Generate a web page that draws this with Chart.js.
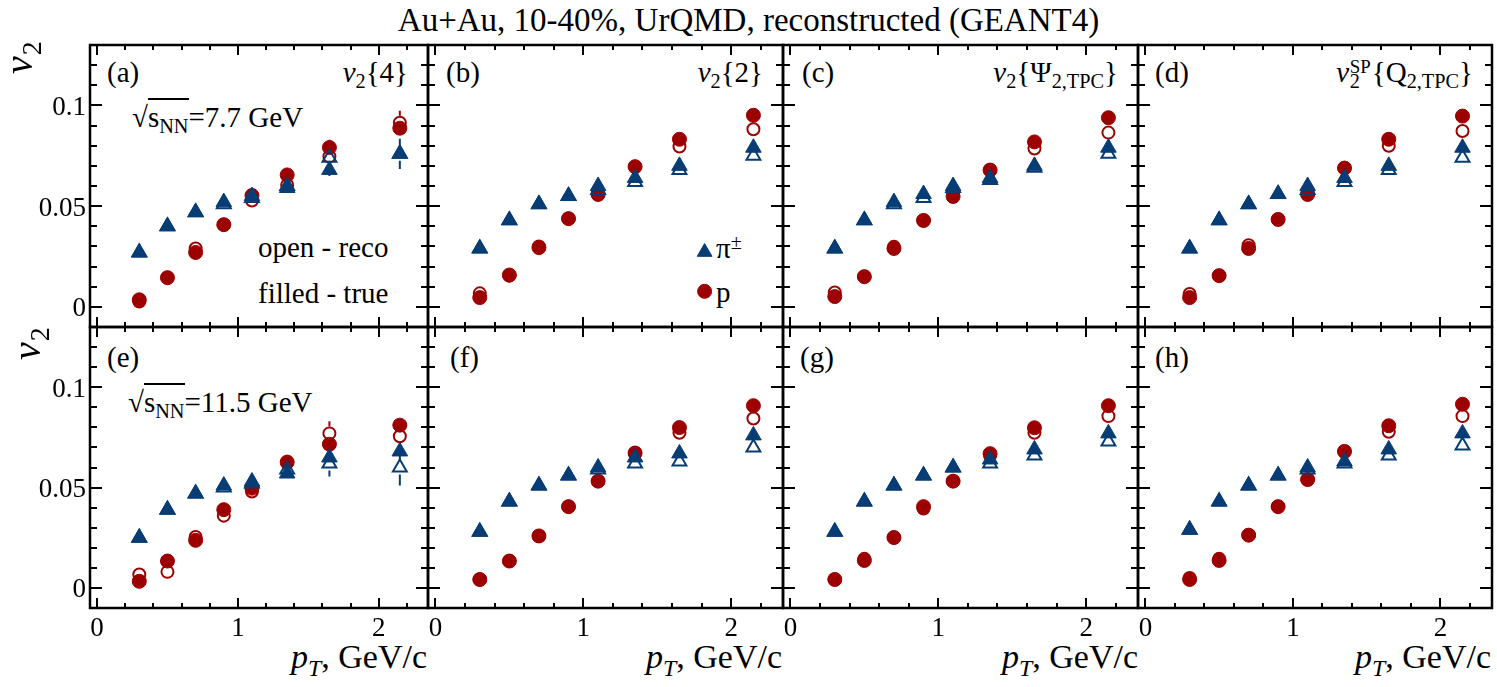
<!DOCTYPE html>
<html>
<head>
<meta charset="utf-8">
<script src="https://cdn.jsdelivr.net/npm/chart.js@4.4.0/dist/chart.umd.min.js"></script>
<style>
  body { margin: 0; background: #fff; }
  #fig { position: relative; width: 1497px; height: 687px; overflow: hidden; background: #fff; }
  #fig canvas { position: absolute; }
  .t { position: absolute; font-family: 'Liberation Serif', 'DejaVu Serif', serif; line-height: 1; white-space: nowrap; color: #000; }
  .t sub { font-size: 0.7em; vertical-align: -0.32em; line-height: 0; }
  .t sup { font-size: 0.7em; vertical-align: 0.45em; line-height: 0; }
  .lab { font-size: 29px; }
  .ttl { font-size: 33px; left: 0; width: 1497px; text-align: center; top: 4px; }
  .xt { font-size: 34px; top: 640px; }
  .ss { display: inline-block; position: relative; width: 0.78em; height: 1em; vertical-align: top; }
  .ss .up { position: absolute; left: 0.03em; top: 0.02em; font-size: 0.65em; }
  .ss .dn { position: absolute; left: 0.03em; top: 0.62em; font-size: 0.7em; }
  .ov { border-top: 2px solid #000; padding-top: 1px; }
</style>
</head>
<body>
<div id="fig">
  <div class="t ttl">Au+Au, 10-40%, UrQMD, reconstructed (GEANT4)</div>

  <div class="t lab" style="left:107px; top:58px;">(a)</div>
  <div class="t lab" style="left:446px; top:58px;">(b)</div>
  <div class="t lab" style="left:802px; top:58px;">(c)</div>
  <div class="t lab" style="left:1155px; top:58px;">(d)</div>
  <div class="t lab" style="left:107px; top:343px;">(e)</div>
  <div class="t lab" style="left:450px; top:343px;">(f)</div>
  <div class="t lab" style="left:800px; top:343px;">(g)</div>
  <div class="t lab" style="left:1155px; top:343px;">(h)</div>

  <div class="t lab" style="right:1089px; top:58px;"><i>v</i><sub>2</sub>{4}</div>
  <div class="t lab" style="right:734px; top:58px;"><i>v</i><sub>2</sub>{2}</div>
  <div class="t lab" style="right:379px; top:58px;"><i>v</i><sub>2</sub>{&Psi;<sub>2,TPC</sub>}</div>
  <div class="t lab" style="right:24px; top:58px;"><i>v</i><span class="ss"><span class="up">SP</span><span class="dn">2</span></span>{Q<sub>2,TPC</sub>}</div>

  <div class="t lab" style="left:132px; top:103px;">&radic;<span class="ov">s<sub>NN</sub></span>=7.7 GeV</div>
  <div class="t lab" style="left:128px; top:388px;">&radic;<span class="ov">s<sub>NN</sub></span>=11.5 GeV</div>

  <div class="t lab" style="left:258px; top:233px;">open - reco</div>
  <div class="t lab" style="left:258px; top:279px;">filled - true</div>

  <div class="t lab" style="left:716px; top:234px;">&pi;<sup>&plusmn;</sup></div>
  <div class="t lab" style="left:716px; top:278px;">p</div>

  <div class="t xt" style="right:1070px;"><i>p</i><sub><i>T</i></sub>, GeV/c</div>
  <div class="t xt" style="right:715px;"><i>p</i><sub><i>T</i></sub>, GeV/c</div>
  <div class="t xt" style="right:359px;"><i>p</i><sub><i>T</i></sub>, GeV/c</div>
  <div class="t xt" style="right:6px;"><i>p</i><sub><i>T</i></sub>, GeV/c</div>
</div>

<script>
// pT bin centres, GeV/c
const pT = [0.3, 0.5, 0.7, 0.9, 1.1, 1.35, 1.65, 2.15];

// (a) v2{4}, 7.7 GeV
const a_piTrue = [0.027, 0.040, 0.047, 0.052, 0.055, 0.059, 0.068, 0.076];
const a_piReco = [0.027, 0.040, 0.047, 0.051, 0.054, 0.060, 0.074, 0.076];
const a_pTrue  = [0.0035, 0.0145, 0.027, 0.0408, 0.0553, 0.0655, 0.0791, 0.0887];
const a_pReco  = [0.0026, 0.0145, 0.029, 0.0408, 0.0528, 0.0605, 0.0747, 0.0914];
const a_piRecoErr = [0, 0, 0, 0, 0, 0.002, 0.009, 0.0075];
const a_pRecoErr  = [0, 0, 0, 0, 0, 0.002, 0.004, 0.006];

// (b) v2{2}, 7.7 GeV
const b_piTrue = [0.029, 0.043, 0.051, 0.055, 0.060, 0.064, 0.070, 0.079];
const b_piReco = [0.029, 0.043, 0.051, 0.055, 0.058, 0.062, 0.068, 0.075];
const b_pTrue  = [0.0046, 0.0158, 0.0294, 0.0438, 0.0558, 0.0696, 0.0832, 0.0951];
const b_pReco  = [0.0067, 0.0155, 0.030, 0.0438, 0.057, 0.0695, 0.0796, 0.0882];

// (c) v2{Psi2,TPC}, 7.7 GeV
const c_piTrue = [0.029, 0.043, 0.052, 0.056, 0.060, 0.064, 0.070, 0.079];
const c_piReco = [0.029, 0.043, 0.051, 0.054, 0.059, 0.063, 0.069, 0.076];
const c_pTrue  = [0.0051, 0.015, 0.029, 0.0429, 0.0548, 0.0679, 0.0819, 0.0939];
const c_pReco  = [0.0071, 0.015, 0.0298, 0.0429, 0.0566, 0.068, 0.0786, 0.0865];

// (d) v2SP{Q2,TPC}, 7.7 GeV
const d_piTrue = [0.029, 0.043, 0.051, 0.056, 0.060, 0.064, 0.070, 0.079];
const d_piReco = [0.029, 0.043, 0.051, 0.056, 0.058, 0.062, 0.068, 0.074];
const d_pTrue  = [0.0046, 0.0155, 0.029, 0.0434, 0.0558, 0.0689, 0.0832, 0.0947];
const d_pReco  = [0.0064, 0.0155, 0.0306, 0.0434, 0.0574, 0.0689, 0.080, 0.0873];

// (e) v2{4}, 11.5 GeV
const e_piTrue = [0.025, 0.039, 0.047, 0.051, 0.053, 0.057, 0.065, 0.068];
const e_piReco = [0.025, 0.039, 0.047, 0.050, 0.052, 0.059, 0.062, 0.060];
const e_pTrue  = [0.0033, 0.0134, 0.0237, 0.039, 0.0497, 0.0627, 0.0716, 0.0811];
const e_pReco  = [0.0067, 0.008, 0.0254, 0.036, 0.048, 0.0624, 0.077, 0.0756];
const e_piRecoErr = [0, 0, 0, 0, 0, 0.003, 0.0065, 0.009];
const e_pRecoErr  = [0.003, 0.002, 0, 0, 0, 0.003, 0.006, 0.005];

// (f) v2{2}, 11.5 GeV
const f_piTrue = [0.028, 0.043, 0.051, 0.056, 0.060, 0.065, 0.067, 0.076];
const f_piReco = [0.028, 0.043, 0.051, 0.056, 0.059, 0.062, 0.063, 0.070];
const f_pTrue  = [0.0042, 0.0134, 0.0259, 0.0405, 0.0532, 0.0672, 0.0799, 0.0908];
const f_pReco  = [0.0042, 0.0134, 0.0259, 0.0405, 0.0532, 0.0672, 0.0773, 0.0844];

// (g) v2{Psi2,TPC}, 11.5 GeV
const g_piTrue = [0.028, 0.043, 0.051, 0.056, 0.060, 0.064, 0.069, 0.077];
const g_piReco = [0.028, 0.043, 0.051, 0.056, 0.060, 0.062, 0.066, 0.073];
const g_pTrue  = [0.0042, 0.0137, 0.0251, 0.0405, 0.0532, 0.0669, 0.0798, 0.0908];
const g_pReco  = [0.0042, 0.0145, 0.0251, 0.0396, 0.0532, 0.066, 0.0773, 0.0856];

// (h) v2SP{Q2,TPC}, 11.5 GeV
const h_piTrue = [0.029, 0.043, 0.051, 0.056, 0.060, 0.063, 0.069, 0.077];
const h_piReco = [0.029, 0.043, 0.051, 0.056, 0.059, 0.062, 0.066, 0.071];
const h_pTrue  = [0.0042, 0.0137, 0.0263, 0.0405, 0.054, 0.068, 0.0808, 0.0915];
const h_pReco  = [0.005, 0.0145, 0.0263, 0.0405, 0.054, 0.068, 0.0778, 0.0856];

// axis ticks and labels
const xTickValues = [0, 0.2, 0.4, 0.6, 0.8, 1, 1.2, 1.4, 1.6, 1.8, 2, 2.2];
const xLabelValues = [0, 1, 2];
const xLabelText = ['0', '1', '2'];
const yTickValues = [0, 0.01, 0.02, 0.03, 0.04, 0.05, 0.06, 0.07, 0.08, 0.09, 0.1, 0.11, 0.12];
const yLabelValues = [0, 0.05, 0.1];
const yLabelText = ['0', '0.05', '0.1'];

const BLUE = '#073d74';
const RED = '#9c0000';
const FONT = "'Liberation Serif', 'DejaVu Serif', serif";

// frame edges of the panels (pixels on the page)
const colEdges = [90, 428, 783, 1138, 1492];
const rowEdges = [45, 327, 608];
const PAD = { left: 95, top: 10, right: 10, bottom: 40 };

const panels = [
  { row: 0, col: 0, pi: [a_piTrue, a_piReco], p: [a_pTrue, a_pReco], err: [a_piRecoErr, a_pRecoErr], ytitle: [32, 74] },
  { row: 0, col: 1, pi: [b_piTrue, b_piReco], p: [b_pTrue, b_pReco], legend: true },
  { row: 0, col: 2, pi: [c_piTrue, c_piReco], p: [c_pTrue, c_pReco] },
  { row: 0, col: 3, pi: [d_piTrue, d_piReco], p: [d_pTrue, d_pReco] },
  { row: 1, col: 0, pi: [e_piTrue, e_piReco], p: [e_pTrue, e_pReco], err: [e_piRecoErr, e_pRecoErr], ytitle: [40, 360] },
  { row: 1, col: 1, pi: [f_piTrue, f_piReco], p: [f_pTrue, f_pReco] },
  { row: 1, col: 2, pi: [g_piTrue, g_piReco], p: [g_pTrue, g_pReco] },
  { row: 1, col: 3, pi: [h_piTrue, h_piReco], p: [h_pTrue, h_pReco] },
];

function toPoints(vals) {
  return pT.map((x, i) => ({ x: x, y: vals[i] }));
}

function isMajor(v, step) {
  return Math.abs(v / step - Math.round(v / step)) < 1e-6;
}

// error bars, frame, inward ticks, tick labels, y title and the legend of panel (b)
const framePlugin = {
  id: 'frame',
  beforeDatasetsDraw(chart) {
    const ctx = chart.ctx;
    const y = chart.scales.y;
    ctx.save();
    ctx.lineWidth = 2;
    chart.data.datasets.forEach((ds, i) => {
      if (!ds.errors) return;
      const meta = chart.getDatasetMeta(i);
      ctx.strokeStyle = ds.borderColor;
      meta.data.forEach((pt, j) => {
        const e = ds.errors[j];
        if (!e) return;
        const v = ds.data[j].y;
        const top = y.getPixelForValue(v + e);
        const bot = y.getPixelForValue(v - e);
        const gap = 7;
        ctx.beginPath();
        if (top < pt.y - gap) { ctx.moveTo(pt.x, top); ctx.lineTo(pt.x, pt.y - gap); }
        if (bot > pt.y + gap) { ctx.moveTo(pt.x, pt.y + gap); ctx.lineTo(pt.x, bot); }
        ctx.stroke();
      });
    });
    ctx.restore();
  },
  afterDraw(chart, args, opts) {
    const ctx = chart.ctx;
    const a = chart.chartArea;
    const x = chart.scales.x;
    const y = chart.scales.y;
    ctx.save();
    ctx.strokeStyle = '#000';
    ctx.lineWidth = 2;
    ctx.beginPath();
    yTickValues.forEach(v => {
      const py = Math.round(y.getPixelForValue(v));
      const len = isMajor(v, 0.05) ? 12 : 7;
      ctx.moveTo(a.left, py); ctx.lineTo(a.left + len, py);
      ctx.moveTo(a.right, py); ctx.lineTo(a.right - len, py);
    });
    xTickValues.forEach(v => {
      const px = Math.round(x.getPixelForValue(v));
      const len = isMajor(v, 1) ? 10 : 5;
      ctx.moveTo(px, a.bottom); ctx.lineTo(px, a.bottom - len);
      ctx.moveTo(px, a.top); ctx.lineTo(px, a.top + len);
    });
    ctx.stroke();
    ctx.lineWidth = 2.5;
    ctx.strokeRect(a.left, a.top, a.right - a.left, a.bottom - a.top);

    ctx.fillStyle = '#000';
    ctx.font = '27px ' + FONT;
    if (opts.yLabels) {
      ctx.textAlign = 'right';
      ctx.textBaseline = 'alphabetic';
      yLabelValues.forEach((v, i) => {
        ctx.fillText(yLabelText[i], a.left - 4, y.getPixelForValue(v) + 9.5);
      });
    }
    if (opts.xLabels) {
      ctx.textAlign = 'center';
      ctx.textBaseline = 'alphabetic';
      xLabelValues.forEach((v, i) => {
        ctx.fillText(xLabelText[i], x.getPixelForValue(v), a.bottom + 28);
      });
    }
    if (opts.ytitle) {
      // page position of the baseline start, converted to canvas position
      const bx = opts.ytitle[0] - opts.offset[0];
      const by = opts.ytitle[1] - opts.offset[1];
      ctx.save();
      ctx.translate(bx, by);
      ctx.rotate(-Math.PI / 2);
      ctx.textAlign = 'left';
      ctx.textBaseline = 'alphabetic';
      ctx.font = 'italic 40px ' + FONT;
      ctx.fillText('v', 0, 0);
      const w = ctx.measureText('v').width;
      ctx.font = '28px ' + FONT;
      ctx.fillText('2', w + 1, 9);
      ctx.restore();
    }
    if (opts.legend) {
      ctx.fillStyle = BLUE; ctx.strokeStyle = BLUE; ctx.lineWidth = 1;
      Chart.helpers.drawPoint(ctx, { pointStyle: 'triangle', radius: 8.5, rotation: 0, borderWidth: 1 },
        x.getPixelForValue(1.82), y.getPixelForValue(0.0272));
      ctx.fillStyle = RED; ctx.strokeStyle = RED;
      Chart.helpers.drawPoint(ctx, { pointStyle: 'circle', radius: 7, rotation: 0, borderWidth: 1 },
        x.getPixelForValue(1.82), y.getPixelForValue(0.0077));
    }
    ctx.restore();
  }
};

const fig = document.getElementById('fig');

panels.forEach(pn => {
  const left = colEdges[pn.col], right = colEdges[pn.col + 1];
  const top = rowEdges[pn.row], bottom = rowEdges[pn.row + 1];
  const cv = document.createElement('canvas');
  cv.width = right - left + PAD.left + PAD.right;
  cv.height = bottom - top + PAD.top + PAD.bottom;
  cv.style.left = (left - PAD.left) + 'px';
  cv.style.top = (top - PAD.top) + 'px';
  fig.appendChild(cv);

  const errs = pn.err || [null, null];
  // first dataset is drawn on top
  const datasets = [
    { label: 'pi true', data: toPoints(pn.pi[0]), pointStyle: 'triangle', pointRadius: 9,
      backgroundColor: BLUE, borderColor: BLUE, borderWidth: 1 },
    { label: 'pi reco', data: toPoints(pn.pi[1]), pointStyle: 'triangle', pointRadius: 8,
      backgroundColor: 'rgba(0,0,0,0)', borderColor: BLUE, borderWidth: 2, errors: errs[0] },
    { label: 'p true', data: toPoints(pn.p[0]), pointStyle: 'circle', pointRadius: 7,
      backgroundColor: RED, borderColor: RED, borderWidth: 1 },
    { label: 'p reco', data: toPoints(pn.p[1]), pointStyle: 'circle', pointRadius: 6,
      backgroundColor: 'rgba(0,0,0,0)', borderColor: RED, borderWidth: 2, errors: errs[1] },
  ];

  new Chart(cv, {
    type: 'scatter',
    data: { datasets: datasets },
    options: {
      responsive: false,
      animation: false,
      events: [],
      layout: { padding: PAD },
      scales: {
        x: { type: 'linear', min: -0.05, max: 2.35, display: false },
        y: { type: 'linear', min: -0.01, max: 0.13, display: false },
      },
      plugins: {
        legend: { display: false },
        tooltip: { enabled: false },
        frame: {
          yLabels: pn.col === 0,
          xLabels: pn.row === 1,
          legend: !!pn.legend,
          ytitle: pn.ytitle || null,
          offset: [left - PAD.left, top - PAD.top],
        },
      },
    },
    plugins: [framePlugin],
  });
});
</script>
</body>
</html>
